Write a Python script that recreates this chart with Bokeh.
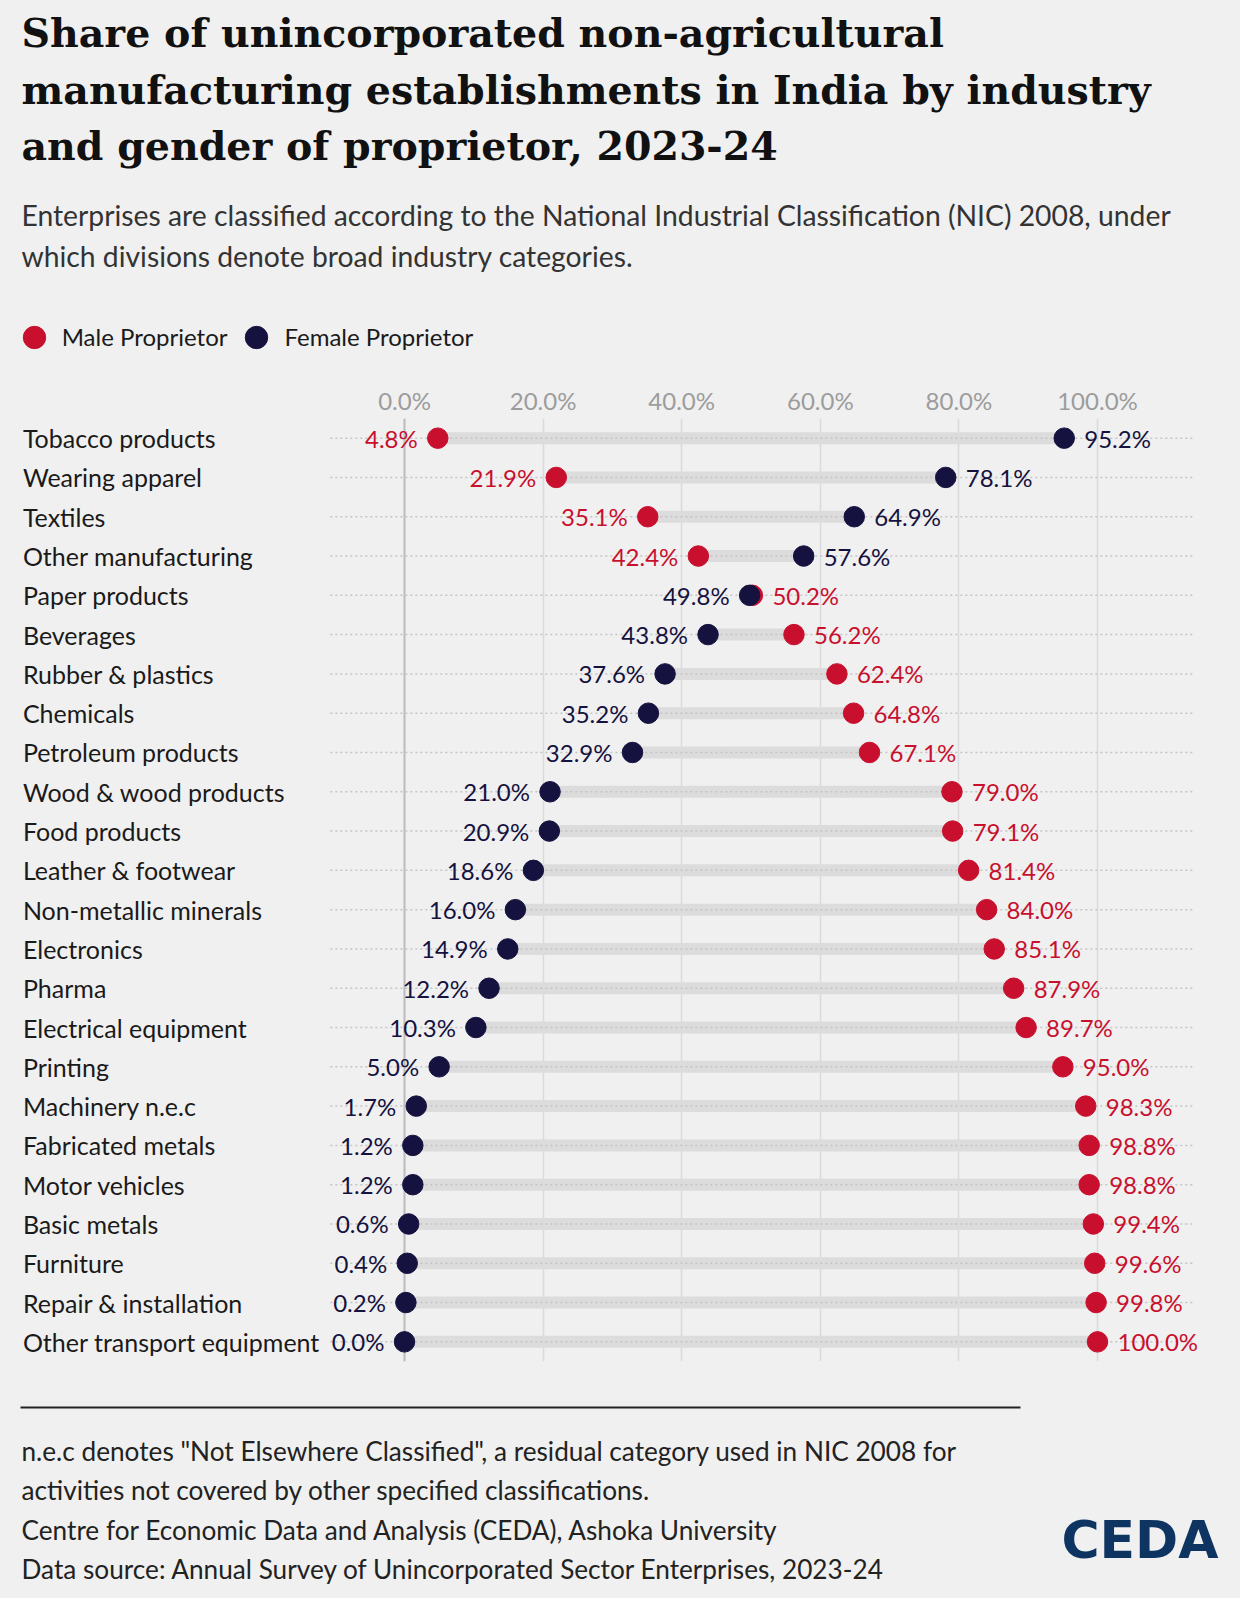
from bokeh.plotting import figure
from bokeh.layouts import column
from bokeh.models import (ColumnDataSource, FactorRange, Range1d, FixedTicker,
                          PrintfTickFormatter, Span, Legend, LegendItem,
                          GlobalInlineStyleSheet)
from bokeh.core.properties import value
from bokeh.embed import file_html
from bokeh.resources import INLINE

industries = [
    "Tobacco products", "Wearing apparel", "Textiles", "Other manufacturing",
    "Paper products", "Beverages", "Rubber & plastics", "Chemicals",
    "Petroleum products", "Wood & wood products", "Food products",
    "Leather & footwear", "Non-metallic minerals", "Electronics", "Pharma",
    "Electrical equipment", "Printing", "Machinery n.e.c", "Fabricated metals",
    "Motor vehicles", "Basic metals", "Furniture", "Repair & installation",
    "Other transport equipment",
]
male_share = [4.8, 21.9, 35.1, 42.4, 50.2, 56.2, 62.4, 64.8, 67.1, 79.0, 79.1, 81.4,
              84.0, 85.1, 87.9, 89.7, 95.0, 98.3, 98.8, 98.8, 99.4, 99.6, 99.8, 100.0]
female_share = [95.2, 78.1, 64.9, 57.6, 49.8, 43.8, 37.6, 35.2, 32.9, 21.0, 20.9, 18.6,
                16.0, 14.9, 12.2, 10.3, 5.0, 1.7, 1.2, 1.2, 0.6, 0.4, 0.2, 0.0]
x_ticks = [0, 20, 40, 60, 80, 100]

title_lines = [
    "Share of unincorporated non-agricultural",
    "manufacturing establishments in India by industry",
    "and gender of proprietor, 2023-24",
]
subtitle_lines = [
    "Enterprises are classified according to the National Industrial Classification (NIC) 2008, under",
    "which divisions denote broad industry categories.",
]
note_lines = [
    "n.e.c denotes \"Not Elsewhere Classified\", a residual category used in NIC 2008 for",
    "activities not covered by other specified classifications.",
    "Centre for Economic Data and Analysis (CEDA), Ashoka University",
    "Data source: Annual Survey of Unincorporated Sector Enterprises, 2023-24",
]

RED = "#c8102e"
NAVY = "#15123f"
BG = "#f0f0f0"
SANS = "Lato"
SERIF = "DejaVu Serif"

W = 1240
HEAD_H, MAIN_H, FOOT_H = 380, 1000, 218
B_TOP, B_BOTTOM = 38, 19
PX_PER_PCT = 6.93
ZERO_PX = 404  # from the left edge to the 0% line
x_start = -ZERO_PX / PX_PER_PCT
x_end = x_start + W / PX_PER_PCT
RULE_START, RULE_END = -10.7, 114.1


def text_panel(height):
    # plain panel whose data units are pixels, y pointing down
    f = figure(width=W, height=height, x_range=Range1d(0, W), y_range=Range1d(height, 0),
               x_axis_type=None, y_axis_type=None, toolbar_location=None,
               output_backend="svg", min_border=0, title=None,
               background_fill_color=BG, border_fill_color=BG, outline_line_color=None)
    f.xgrid.visible = False
    f.ygrid.visible = False
    return f


# header: title, subtitle and legend
head = text_panel(HEAD_H)
head.text(x=[21] * len(title_lines), y=[32.6 + 56.5 * i for i in range(len(title_lines))],
          text=title_lines, text_font=value(SERIF), text_font_style="bold",
          text_font_size=value("39.5px"), text_color="#111111", text_baseline="middle")
head.text(x=[21] * len(subtitle_lines), y=[214 + 41 * i for i in range(len(subtitle_lines))],
          text=subtitle_lines, text_font=value(SANS), text_font_size=value("28.3px"),
          text_color="#333333", text_baseline="middle")

# legend keys: off-panel points that only feed the legend swatches
male_key = head.scatter(x=[-100], y=[-100], size=20, color=RED)
female_key = head.scatter(x=[-100], y=[-100], size=20, color=NAVY)
legend = Legend(items=[LegendItem(label="Male Proprietor", renderers=[male_key]),
                       LegendItem(label="Female Proprietor", renderers=[female_key])],
                orientation="horizontal", location=(5.7, HEAD_H - 364.7),
                glyph_width=56, glyph_height=56, label_standoff=0, spacing=1,
                padding=0, margin=0, border_line_color=None, background_fill_alpha=0,
                label_text_font=SANS, label_text_font_size="24px",
                label_text_color="#1a1a1a")
head.add_layout(legend)

# main chart
lo = [min(m, f) for m, f in zip(male_share, female_share)]
hi = [max(m, f) for m, f in zip(male_share, female_share)]
male_low = [m <= f for m, f in zip(male_share, female_share)]
src = ColumnDataSource(dict(
    industry=industries, male=male_share, female=female_share,
    lo=lo, hi=hi,
    lo_text=[f"{v:.1f}%" for v in lo], hi_text=[f"{v:.1f}%" for v in hi],
    lo_color=[RED if ml else NAVY for ml in male_low],
    hi_color=[NAVY if ml else RED for ml in male_low],
))

p = figure(width=W, height=MAIN_H, x_range=Range1d(x_start, x_end),
           y_range=FactorRange(factors=industries[::-1]), title=None,
           x_axis_location="above", toolbar_location=None, output_backend="svg",
           min_border_left=0, min_border_right=0,
           min_border_top=B_TOP, min_border_bottom=B_BOTTOM,
           background_fill_color=BG, border_fill_color=BG, outline_line_color=None)

ticker = FixedTicker(ticks=x_ticks)
p.xaxis.ticker = ticker
p.xaxis.formatter = PrintfTickFormatter(format="%.1f%%")
p.xaxis.axis_line_color = None
p.xaxis.major_tick_line_color = None
p.xaxis.minor_tick_line_color = None
p.xaxis.major_tick_out = 0
p.xaxis.major_tick_in = 0
p.xaxis.minor_tick_out = 0
p.xaxis.major_label_standoff = 4
p.xaxis.major_label_text_font = SANS
p.xaxis.major_label_text_font_size = "24px"
p.xaxis.major_label_text_color = "#9c9c9c"
p.yaxis.visible = False
p.xgrid.ticker = ticker
p.xgrid.grid_line_color = "#dadada"
p.xgrid.grid_line_width = 1.5
p.ygrid.grid_line_color = None
p.add_layout(Span(location=0, dimension="height", line_color="#bdbdbd",
                  line_width=2, level="underlay"))

p.segment(x0="male", y0="industry", x1="female", y1="industry", source=src,
          line_color="#dcdcdc", line_width=12)
p.segment(x0=RULE_START, y0="industry", x1=RULE_END, y1="industry", source=src,
          line_color="#c4c4c4", line_width=1.5, line_dash="2 3")
p.scatter("male", "industry", source=src, size=20.5, color=RED)
p.scatter("female", "industry", source=src, size=20.5, color=NAVY)

text_kw = dict(text_baseline="middle", text_font=value(SANS), text_font_size=value("24px"))
p.text(x="lo", y="industry", text="lo_text", text_color="lo_color", source=src,
       x_offset=-20, text_align="right", **text_kw)
p.text(x="hi", y="industry", text="hi_text", text_color="hi_color", source=src,
       x_offset=20, text_align="left", **text_kw)
p.text(x=x_start, y="industry", text="industry", text_color="#1a1a1a", source=src,
       x_offset=22.4, text_align="left", text_baseline="middle", text_font=value(SANS),
       text_font_size=value("25px"))

# footer: rule, notes, logo
foot = text_panel(FOOT_H)
foot.segment(x0=20, y0=27, x1=1020, y1=27, line_color="#222222", line_width=2)
foot.text(x=[21] * len(note_lines), y=[70 + 39.6 * i for i in range(len(note_lines))],
          text=note_lines, text_font=value(SANS), text_font_size=value("26.2px"),
          text_color="#222222", text_baseline="middle")
foot.text(x=[1218], y=[159], text=["CEDA"], text_font=value("DejaVu Sans"),
          text_font_style="bold", text_font_size=value("52px"), text_color="#0e3461",
          text_align="right", text_baseline="middle")

page = column(head, p, foot, spacing=0)
page.stylesheets = [GlobalInlineStyleSheet(css="html, body { background: #f0f0f0; }")]

open("out.html", "w").write(file_html(page, INLINE))
